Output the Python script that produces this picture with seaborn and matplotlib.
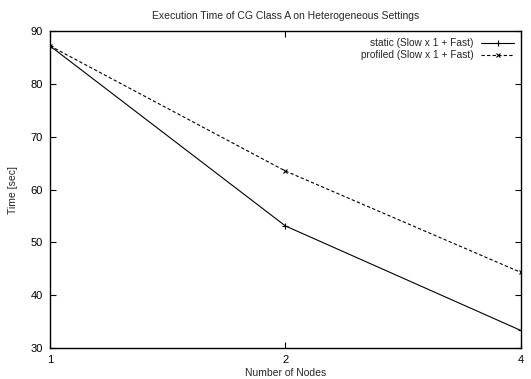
import pandas as pd
import numpy as np
import seaborn as sns
import matplotlib.pyplot as plt
import matplotlib.ticker as ticker

# values
nodes = [1, 2, 4]
static_time = [87.2, 53.1, 33.3]
profiled_time = [87.2, 63.5, 44.3]
series_names = ["static (Slow x 1 + Fast)", "profiled (Slow x 1 + Fast)"]

sns.set_style("ticks")
plt.rcParams['font.family'] = ['Liberation Sans', 'DejaVu Sans']
plt.rcParams['font.size'] = 7.5

fig = plt.figure(figsize=(5.31, 3.79), dpi=100)
ax = fig.add_axes([0.094, 0.082, 0.887, 0.836])

# seaborn defaults marker edges to white, which hides + and x
sns.lineplot(x=nodes, y=static_time, color="black", marker="+", markersize=4.5,
             markeredgewidth=0.8, markeredgecolor="black", linewidth=0.8,
             linestyle="-", label=series_names[0], ax=ax)
sns.lineplot(x=nodes, y=profiled_time, color="black", marker="x", markersize=3.5,
             markeredgewidth=0.8, markeredgecolor="black", linewidth=0.8,
             linestyle=(0, (3, 2)), label=series_names[1], ax=ax)

ax.set_xscale("log", base=2)
ax.set_xlim(1, 4)
ax.xaxis.set_major_locator(ticker.FixedLocator(nodes))
ax.xaxis.set_major_formatter(ticker.FixedFormatter([str(n) for n in nodes]))
ax.xaxis.set_minor_locator(ticker.NullLocator())
ax.set_ylim(30, 90)
ax.yaxis.set_major_locator(ticker.MultipleLocator(10))

ax.tick_params(direction="in", length=4, width=0.8, top=True, right=True,
               labelsize=8, colors="black", pad=5)
for s in ax.spines.values():
    s.set_linewidth(1.0)
    s.set_color("black")

ax.set_xlabel("Number of Nodes", fontsize=7.5, labelpad=2)
ax.set_ylabel("Time [sec]", fontsize=7.5, labelpad=9)
ax.set_title("Execution Time of CG Class A on Heterogeneous Settings", fontsize=7.5, pad=9)

handles, labels = ax.get_legend_handles_labels()
ax.legend(handles, labels, loc="upper right", frameon=False, markerfirst=False,
          handlelength=3.2, fontsize=7.3, borderaxespad=0.3, labelspacing=0.2)

plt.savefig("out.png", dpi=100)
